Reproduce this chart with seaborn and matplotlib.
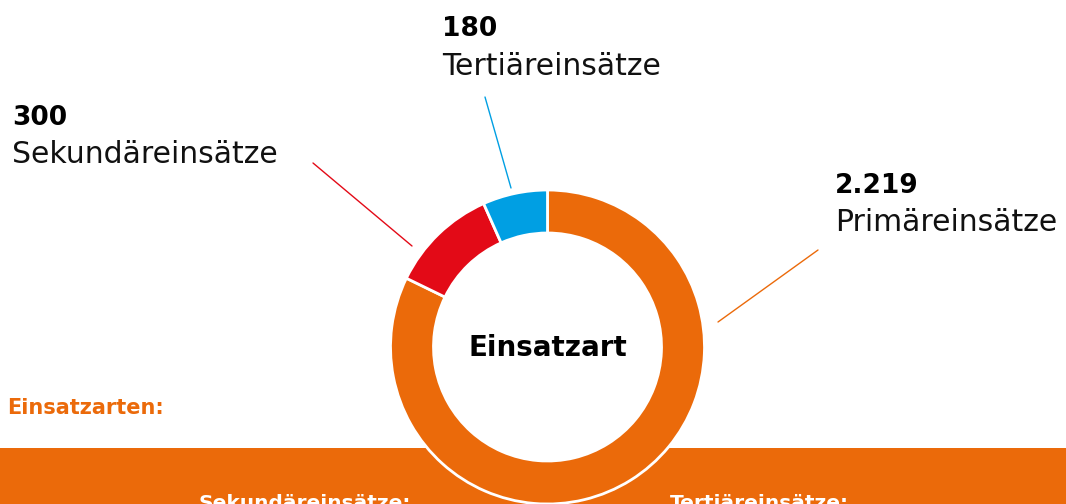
import matplotlib
matplotlib.use("Agg")
import matplotlib.pyplot as plt
import seaborn as sns
from matplotlib.patches import Rectangle, Circle

# ---------------- Daten ----------------
kategorien = ["Primäreinsätze", "Sekundäreinsätze", "Tertiäreinsätze"]
anzahl = [2219, 300, 180]
farben = ["#EB6A0A", "#E30A17", "#009FE3"]
mitte_titel = "Einsatzart"
legende_titel = "Einsatzarten:"
band_texte = ["Sekundäreinsätze:", "Tertiäreinsätze:"]

# ---------------- Stil ----------------
sns.set_theme(style="white")
plt.rcParams["font.family"] = ["DejaVu Sans"]

W, H = 1066, 504
fig = plt.figure(figsize=(W / 100, H / 100), dpi=100)
ax = fig.add_axes([0, 0, 1, 1])


def py(y):
    # Pixel von oben -> Datenkoordinate von unten
    return H - y


# orangener Balken unten
ax.add_patch(Rectangle((0, 0), W, H - 448, facecolor=farben[0], lw=0, zorder=1))

# Donut
cx, cy, radius, breite = 547.5, py(347), 157, 43
ax.pie(anzahl, colors=farben, startangle=90, counterclock=False,
       center=(cx, cy), radius=radius, frame=True,
       wedgeprops=dict(width=breite, edgecolor="white", linewidth=2, zorder=2))
# Loch in der Mitte weiss (ueberdeckt den Balken)
ax.add_patch(Circle((cx, cy), radius - breite, facecolor="white", lw=0, zorder=1.8))

ax.set_xlim(0, W)
ax.set_ylim(0, H)
ax.set_aspect("equal")
ax.axis("off")

ax.text(cx, cy + 2, mitte_titel, ha="center", va="center_baseline",
        fontsize=20, fontweight="bold", color="black", zorder=3)

# Beschriftungen mit Verbindungslinien (Layout in Pixel)
label_layout = {
    "Primäreinsätze": dict(x=835, zahl_y=193, name_y=231,
                           linie=((818, 250), (718, 322))),
    "Sekundäreinsätze": dict(x=12, zahl_y=125, name_y=163,
                             linie=((313, 163), (412, 246))),
    "Tertiäreinsätze": dict(x=442, zahl_y=36, name_y=75,
                            linie=((485, 97), (511, 188))),
}

for kat, wert, farbe in zip(kategorien, anzahl, farben):
    lay = label_layout[kat]
    zahl = f"{wert:,}".replace(",", ".")
    ax.text(lay["x"], py(lay["zahl_y"]), zahl, ha="left", va="baseline",
            fontsize=19, fontweight="heavy", color="black")
    ax.text(lay["x"], py(lay["name_y"]), kat, ha="left", va="baseline",
            fontsize=21.5, color="#111111")
    (x0, y0), (x1, y1) = lay["linie"]
    ax.plot([x0, x1], [py(y0), py(y1)], color=farbe, lw=1.0, zorder=3)

ax.text(7, py(414), legende_titel, ha="left", va="baseline",
        fontsize=15, fontweight="bold", color=farben[0])

for txt, x in zip(band_texte, [198, 670]):
    ax.text(x, py(494), txt, ha="left", va="top",
            fontsize=14.5, fontweight="bold", color="white", zorder=1.5)

fig.savefig("out.png", dpi=100)
